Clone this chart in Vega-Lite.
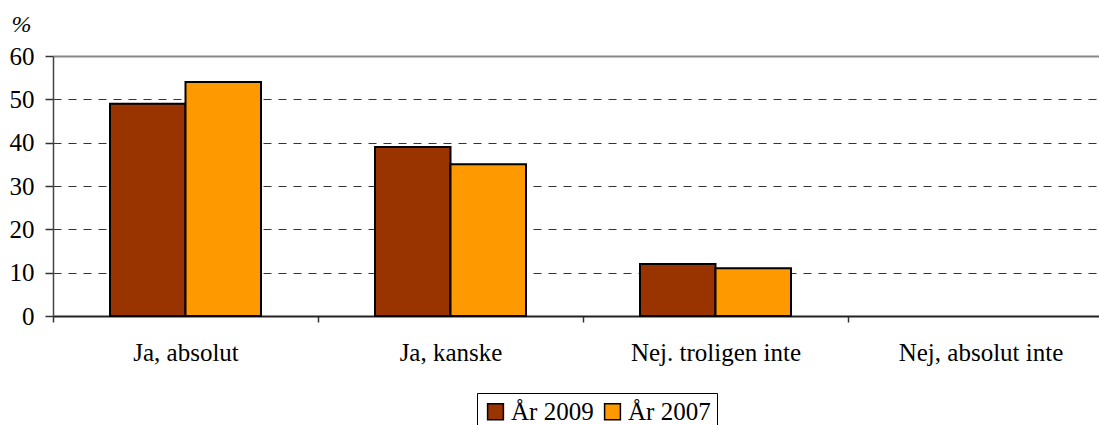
{
  "$schema": "https://vega.github.io/schema/vega-lite/v6.json",
  "autosize": {"type": "none"},
  "padding": {"left": 53, "top": 56, "right": 0, "bottom": 109},
  "width": 1046,
  "height": 260,
  "background": "white",
  "config": {
    "font": "Liberation Serif, Times New Roman, serif",
    "view": {"stroke": null},
    "axis": {"labelFont": "Liberation Serif, Times New Roman, serif", "titleFont": "Liberation Serif, Times New Roman, serif", "labelColor": "black", "titleColor": "black"},
    "legend": {"labelFont": "Liberation Serif, Times New Roman, serif"}
  },
  "data": {
    "values": [
      {"svar": "Ja, absolut", "ar": "År 2009", "procent": 49},
      {"svar": "Ja, absolut", "ar": "År 2007", "procent": 54},
      {"svar": "Ja, kanske", "ar": "År 2009", "procent": 39},
      {"svar": "Ja, kanske", "ar": "År 2007", "procent": 35},
      {"svar": "Nej. troligen inte", "ar": "År 2009", "procent": 12},
      {"svar": "Nej. troligen inte", "ar": "År 2007", "procent": 11},
      {"svar": "Nej, absolut inte", "ar": "År 2009", "procent": 0},
      {"svar": "Nej, absolut inte", "ar": "År 2007", "procent": 0}
    ]
  },
  "mark": {"type": "bar", "stroke": "black", "strokeWidth": 2, "clip": false},
  "encoding": {
    "x": {
      "field": "svar", "type": "nominal", "sort": null,
      "scale": {"domain": ["Ja, absolut", "Ja, kanske", "Nej. troligen inte", "Nej, absolut inte"], "range": [0, 1060], "paddingInner": 0, "paddingOuter": 0},
      "axis": {
        "title": null, "labelAngle": 0, "labelFontSize": 25, "labelPadding": 18,
        "tickBand": "extent", "tickSize": 6, "tickColor": "#333", "tickWidth": 1.5,
        "domainColor": "#222", "domainWidth": 2, "grid": false
      }
    },
    "xOffset": {
      "field": "ar", "type": "nominal", "sort": ["År 2009", "År 2007"],
      "scale": {"paddingInner": 0, "paddingOuter": 0.755}
    },
    "y": {
      "field": "procent", "type": "quantitative",
      "scale": {"domain": [0, 60], "nice": false},
      "axis": {
        "values": [0, 10, 20, 30, 40, 50, 60],
        "title": "%", "titleAngle": 0, "titleFontStyle": "italic", "titleFontWeight": "normal", "titleFontSize": 24,
        "titleX": -32, "titleY": -32, "titleAlign": "center", "titleBaseline": "middle",
        "labelFontSize": 25, "labelPadding": 11, "tickSize": 8, "tickColor": "#333", "tickWidth": 1.5,
        "domainColor": "#444", "domainWidth": 1.5,
        "grid": true,
        "gridColor": {"condition": {"test": "datum.value === 60", "value": "#888"}, "value": "#333"},
        "gridWidth": {"condition": {"test": "datum.value === 60", "value": 2}, "value": 1},
        "gridDash": {"condition": {"test": "datum.value === 60", "value": []}, "value": [8, 7]},
        "gridOpacity": {"condition": {"test": "datum.value === 0", "value": 0}, "value": 1}
      }
    },
    "strokeOpacity": {"condition": {"test": "datum.procent === 0", "value": 0}, "value": 1},
    "color": {
      "field": "ar", "type": "nominal",
      "scale": {"domain": ["År 2009", "År 2007"], "range": ["#993300", "#FF9900"]},
      "legend": {
        "title": null, "orient": "none", "direction": "horizontal", "columns": 2,
        "legendX": 424, "legendY": 337,
        "strokeColor": "black", "padding": 6,
        "symbolType": "square", "symbolSize": 250, "symbolStrokeColor": "black", "symbolStrokeWidth": 1.5,
        "labelFont": "Liberation Serif, Times New Roman, serif", "labelFontSize": 25, "labelColor": "black", "labelOffset": 3,
        "columnPadding": 6
      }
    }
  }
}
